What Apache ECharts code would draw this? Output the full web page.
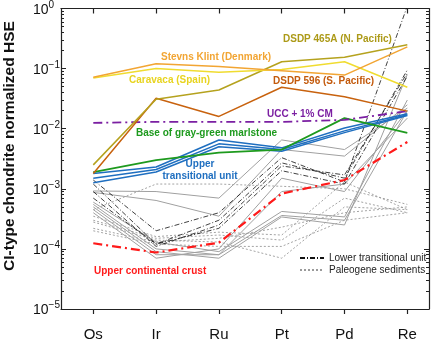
<!DOCTYPE html>
<html>
<head>
<meta charset="utf-8">
<script src="https://cdn.jsdelivr.net/npm/echarts@6/dist/echarts.min.js"></script>
<style>
  html, body { margin: 0; padding: 0; background: #fff; }
  #chart { width: 440px; height: 344px; }
</style>
</head>
<body>
<div id="chart"></div>
<script>
// 元素 (x 轴)
const elements = ["Os", "Ir", "Ru", "Pt", "Pd", "Re"];
const yMajorTicks = [1e-5, 1e-4, 1e-3, 1e-2, 1e-1, 1];

// named samples
const stevnsKlint = [0.072, 0.12, 0.108, 0.092, 0.078, 0.23];
const caravaca = [0.07, 0.1, 0.087, 0.097, 0.13, 0.049];
const dsdp465A = [0.0025, 0.031, 0.044, 0.13, 0.155, 0.25];
const dsdp596 = [0.0018, 0.032, 0.016, 0.049, 0.034, 0.0196];
const ucc1cm = [0.0125, 0.013, 0.013, 0.013, 0.014, 0.0196];
const baseMarlstone = [0.0019, 0.003, 0.004, 0.0045, 0.015, 0.0085];
const upperTU1 = [0.0018, 0.0023, 0.0065, 0.0048, 0.0103, 0.0177];
const upperTU2 = [0.0015, 0.0021, 0.0056, 0.0045, 0.0092, 0.017];
const upperTU3 = [0.00126, 0.0019, 0.005, 0.0042, 0.0086, 0.0166];
const upperCrust = [0.000124, 0.000087, 0.000127, 0.00083, 0.0014, 0.006];

// lower transitional unit (black dash-dot)
const lowerTU = [
  [0.0014, 0.0002, 0.0004, 0.0033, 0.0013, 1.1],
  [0.0012, 0.00012, 0.0003, 0.0027, 0.0015, 0.095],
  [0.0009, 0.00011, 0.00025, 0.0024, 0.0017, 0.085],
  [0.0007, 0.00012, 0.00022, 0.002, 0.0012, 0.075],
];
// other samples (gray solid)
const otherSamples = [
  [0.00092, 0.0009, 0.0007, 0.0065, 0.0045, 0.022],
  [0.00087, 0.00064, 0.00035, 0.0045, 0.0035, 0.025],
  [0.0006, 0.00013, 0.00009, 0.00042, 0.00034, 0.03],
  [0.00055, 0.0001, 0.00008, 0.00036, 0.0003, 0.02],
  [0.0005, 0.00009, 0.00007, 0.00034, 0.00025, 0.08],
  [0.00045, 0.00008, 0.00008, 0.0009, 0.0012, 0.015],
  [0.0004, 0.00007, 0.0001, 0.0015, 0.0009, 0.02],
];
// Paleogene sediments (gray dotted)
const paleogene = [
  [0.00045, 0.0012, 0.0012, 0.0011, 0.001, 0.00055],
  [0.00035, 0.00016, 0.00019, 0.00017, 0.0013, 0.00045],
  [0.0003, 0.00015, 0.00017, 0.00014, 0.0007, 0.0004],
  [0.00028, 0.00014, 0.00013, 0.00007, 0.0005, 0.00045],
  [0.00022, 0.00013, 0.00015, 0.00023, 0.0004, 0.0005],
  [0.0002, 0.00012, 0.00011, 0.00011, 0.0003, 0.0004],
];

const FONT = "Liberation Sans, Arial, sans-serif";
const xMin = -0.514, xMax = 5.345;

function minorTicks() {
  let arr = [];
  for (let e = -5; e < 0; e++) {
    for (let m = 2; m <= 9; m++) arr.push(m * Math.pow(10, e));
  }
  return arr;
}

function line(name, values, color, width, type, z) {
  return {
    name: name,
    type: "line",
    symbol: "none",
    z: z,
    data: values.map((v, i) => [i, v]),
    lineStyle: { color: color, width: width, type: type },
    itemStyle: { color: color },
    emphasis: { disabled: true },
  };
}

let series = [];
paleogene.forEach((d) => series.push(line("Paleogene sediments", d, "#9a9a9a", 0.9, [2, 2], 2)));
otherSamples.forEach((d) => series.push(line("other", d, "#a0a0a0", 1, "solid", 3)));
lowerTU.forEach((d) => series.push(line("Lower transitional unit", d, "#111", 0.8, [5, 2, 1, 2], 4)));
series.push(line("UCC", upperCrust, "#ff1a1a", 2.2, [9, 4, 2, 4], 6));
series.push(line("UTU1", upperTU1, "#1f6fc0", 1.5, "solid", 5));
series.push(line("UTU2", upperTU2, "#1f6fc0", 1.5, "solid", 5));
series.push(line("UTU3", upperTU3, "#1f6fc0", 1.5, "solid", 5));
series.push(line("Base", baseMarlstone, "#1e9a1e", 1.8, "solid", 5));
series.push(line("UCC1CM", ucc1cm, "#7b1fa2", 1.8, [9, 4, 2, 4], 5));
series.push(line("DSDP596", dsdp596, "#c8620e", 1.5, "solid", 5));
series.push(line("DSDP465A", dsdp465A, "#b5a21e", 1.5, "solid", 5));
series.push(line("Caravaca", caravaca, "#f0dc30", 1.5, "solid", 5));
series.push(line("Stevns", stevnsKlint, "#f2a533", 1.5, "solid", 5));

function label(text, x, y, color, align) {
  return {
    type: "text",
    x: x,
    y: y,
    z: 20,
    style: {
      text: text,
      fill: color,
      font: "bold 10px " + FONT,
      align: align || "left",
      verticalAlign: "middle",
    },
  };
}

const axisColor = "#222";
const yBase = {
  type: "log",
  min: 1e-5,
  max: 1,
  logBase: 10,
  splitLine: { show: false },
};

var myChart = echarts.init(document.getElementById("chart"));
let option = {
  animation: false,
  grid: { left: 61, right: 11, top: 7, bottom: 35 },
  legend: {
    data: ["Lower transitional unit", "Paleogene sediments"],
    orient: "vertical",
    left: 294,
    top: 248,
    itemWidth: 24,
    itemHeight: 10,
    itemGap: 2,
    selectedMode: false,
    itemStyle: { color: "transparent", borderWidth: 0, opacity: 0 },
    textStyle: { fontSize: 10, color: "#222", fontFamily: FONT },
  },
  xAxis: [
    {
      type: "value",
      min: xMin,
      max: xMax,
      position: "bottom",
      splitLine: { show: false },
      axisLine: { onZero: false, lineStyle: { color: axisColor, width: 1.2 } },
      axisTick: { customValues: [0, 1, 2, 3, 4, 5], length: 5, lineStyle: { color: axisColor, width: 1.2 } },
      axisLabel: {
        customValues: [0, 1, 2, 3, 4, 5],
        formatter: (v) => elements[Math.round(v)],
        fontSize: 15,
        margin: 18,
        color: "#111",
        fontFamily: FONT,
      },
    },
    {
      type: "value",
      min: xMin,
      max: xMax,
      position: "top",
      splitLine: { show: false },
      axisLine: { onZero: false, lineStyle: { color: axisColor, width: 1.2 } },
      axisTick: { customValues: [0, 1, 2, 3, 4, 5], inside: true, length: 5, lineStyle: { color: axisColor, width: 1.2 } },
      axisLabel: { show: false },
    },
  ],
  yAxis: [
    Object.assign({}, yBase, {
      position: "left",
      axisLine: { show: true, onZero: false, lineStyle: { color: axisColor, width: 1.2 } },
      axisTick: { inside: true, length: 5, customValues: yMajorTicks, lineStyle: { color: axisColor } },
      axisLabel: {
        customValues: yMajorTicks,
        align: "left",
        margin: 28,
        fontFamily: FONT,
        color: "#111",
        formatter: (v) => "{b|10}{s|" + String(Math.round(Math.log10(v))).replace("-", "\u2212") + "}",
        rich: {
          b: { fontSize: 14, fontFamily: FONT, color: "#111", verticalAlign: "bottom" },
          s: { fontSize: 10, fontFamily: FONT, color: "#111", verticalAlign: "bottom", padding: [0, 0, 7, 0] },
        },
      },
    }),
    Object.assign({}, yBase, {
      position: "right",
      axisLine: { show: true, onZero: false, lineStyle: { color: axisColor, width: 1.2 } },
      axisTick: { inside: true, length: 5, customValues: yMajorTicks, lineStyle: { color: axisColor } },
      axisLabel: { show: false },
    }),
    Object.assign({}, yBase, {
      position: "left",
      axisLine: { show: false, onZero: false },
      axisTick: { inside: true, length: 3, customValues: minorTicks(), lineStyle: { color: axisColor } },
      axisLabel: { show: false },
    }),
    Object.assign({}, yBase, {
      position: "right",
      axisLine: { show: false, onZero: false },
      axisTick: { inside: true, length: 3, customValues: minorTicks(), lineStyle: { color: axisColor } },
      axisLabel: { show: false },
    }),
  ],
  graphic: [
    {
      type: "text",
      x: 10,
      y: 146,
      rotation: Math.PI / 2,
      style: {
        text: "CI-type chondrite normalized HSE",
        fill: "#111",
        font: "bold 15.5px " + FONT,
        align: "center",
        verticalAlign: "middle",
      },
    },
    label("Stevns Klint (Denmark)", 161, 57, "#f2a533"),
    label("Caravaca (Spain)", 129, 80, "#e8d420"),
    label("DSDP 465A (N. Pacific)", 283, 39, "#ac9a18"),
    label("DSDP 596 (S. Pacific)", 273, 81, "#c35a0c"),
    label("UCC + 1% CM", 267, 114, "#7b1fa2"),
    label("Base of gray-green marlstone", 136, 133, "#1e9a1e"),
    label("Upper", 200, 164, "#1f6fc0", "center"),
    label("transitional unit", 200, 176, "#1f6fc0", "center"),
    label("Upper continental crust", 94, 271, "#ff1a1a"),
  ],
  series: series,
};

myChart.setOption(option);
</script>
</body>
</html>
